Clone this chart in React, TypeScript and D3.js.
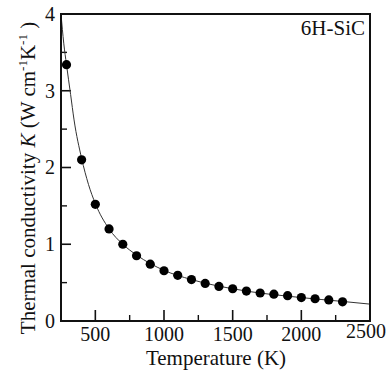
import { scaleLinear, line, curveMonotoneX } from 'd3'

// measured points
const temps = [290, 400, 500, 600, 700, 800, 900, 1000, 1100, 1200, 1300, 1400, 1500, 1600, 1700, 1800, 1900, 2000, 2100, 2200, 2300]
const kappa = [3.34, 2.1, 1.52, 1.2, 1.0, 0.85, 0.74, 0.655, 0.595, 0.54, 0.49, 0.45, 0.42, 0.39, 0.365, 0.35, 0.33, 0.305, 0.29, 0.275, 0.25]

// fitted line
const fitTemps = [250, 270, 290, 320, 345, 400, 450, 500, 600, 700, 800, 1000, 1200, 1500, 2000, 2300, 2500]
const fitKappa = [4.0, 3.62, 3.34, 2.95, 2.62, 2.12, 1.78, 1.53, 1.2, 1.0, 0.86, 0.66, 0.54, 0.42, 0.305, 0.255, 0.22]

const xMajor = [500, 1000, 1500, 2000, 2500]
const xMinor = [750, 1250, 1750, 2250]
const yMajor = [0, 1, 2, 3, 4]
const yMinor = [0.5, 1.5, 2.5, 3.5]

const W = 386
const H = 372
const left = 61, right = 370, top = 14, bottom = 321

const App = () => {
  const x = scaleLinear().domain([250, 2500]).range([left, right])
  const y = scaleLinear().domain([0, 4]).range([bottom, top])

  const fit = line<number>()
    .x((d, i) => x(fitTemps[i]))
    .y(d => y(d))
    .curve(curveMonotoneX)

  return (
    <svg width={W} height={H}
      style={{ position: 'absolute', left: 0, top: 0, background: '#fff', fontFamily: "'Times New Roman', 'Liberation Serif'" }}>
      <defs>
        <clipPath id="plot">
          <rect x={left} y={top} width={right - left} height={bottom - top} />
        </clipPath>
      </defs>

      {/* ticks, inward */}
      {xMajor.filter(t => t < 2500).map(t => (
        <line key={'xm' + t} x1={x(t)} x2={x(t)} y1={bottom} y2={bottom - 11} stroke="#111" strokeWidth={1.6} />
      ))}
      {xMinor.map(t => (
        <line key={'xn' + t} x1={x(t)} x2={x(t)} y1={bottom} y2={bottom - 6} stroke="#111" strokeWidth={1.4} />
      ))}
      {yMajor.filter(t => t > 0 && t < 4).map(t => (
        <line key={'ym' + t} x1={left} x2={left + 10} y1={y(t)} y2={y(t)} stroke="#111" strokeWidth={1.6} />
      ))}
      {yMinor.map(t => (
        <line key={'yn' + t} x1={left} x2={left + 6} y1={y(t)} y2={y(t)} stroke="#111" strokeWidth={1.4} />
      ))}

      {/* fit line */}
      <path d={fit(fitKappa) || ''} fill="none" stroke="#333" strokeWidth={1} clipPath="url(#plot)" />

      {/* data */}
      {temps.map((t, i) => (
        <circle key={t} cx={x(t)} cy={y(kappa[i])} r={4.6} fill="#000" />
      ))}

      {/* frame */}
      <rect x={left} y={top} width={right - left} height={bottom - top} fill="none" stroke="#111" strokeWidth={2} />

      {/* tick labels */}
      {xMajor.map(t => (
        <text key={'xl' + t} x={t === 2500 ? 366 : x(t)} y={t === 2500 ? 338 : 341} textAnchor="middle" fontSize={20} fill="#111">{t}</text>
      ))}
      {yMajor.map(t => (
        <text key={'yl' + t} x={55} y={y(t)} dy="0.34em" textAnchor="end" fontSize={20} fill="#111">{t}</text>
      ))}

      <text x={216} y={365} textAnchor="middle" fontSize={21} fill="#111">Temperature (K)</text>

      <text transform="translate(35,178) rotate(-90)" textAnchor="middle" fontSize={21} fill="#111">
        Thermal conductivity <tspan fontStyle="italic">K</tspan> (W cm
        <tspan dy={-8} fontSize={13}>-1</tspan>
        <tspan dy={8}>K</tspan>
        <tspan dy={-8} fontSize={13}>-1</tspan>
        <tspan dy={8}> )</tspan>
      </text>

      <text x={365} y={35} textAnchor="end" fontSize={21} fill="#111">6H-SiC</text>
    </svg>
  )
}

export default App
